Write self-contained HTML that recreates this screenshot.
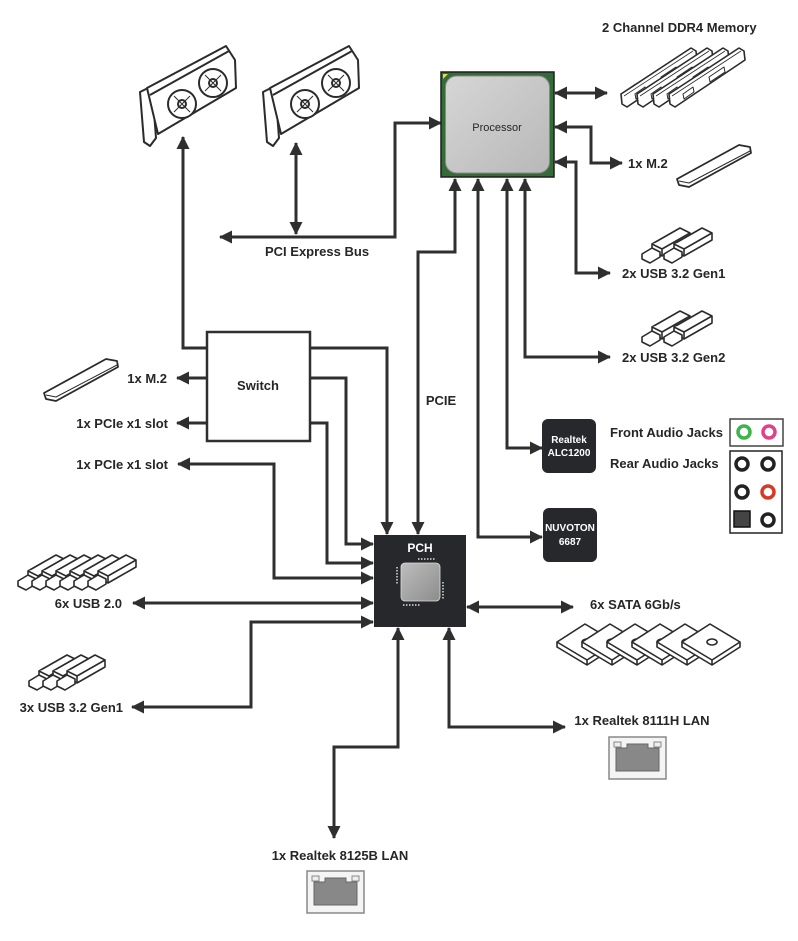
<!DOCTYPE html>
<html><head><meta charset="utf-8"><style>
html,body{margin:0;padding:0;background:#fff;}
svg{display:block;}
text{font-family:"Liberation Sans",Arial,sans-serif;font-weight:bold;fill:#262626;font-size:13px;}
</style></head><body>
<svg width="798" height="941" viewBox="0 0 798 941" xmlns="http://www.w3.org/2000/svg">
<defs>
<marker id="a" markerUnits="userSpaceOnUse" markerWidth="13" markerHeight="13" refX="12" refY="6.5" orient="auto-start-reverse"><path d="M0,0 L13,6.5 L0,13 z" fill="#2f2f2f"/></marker>
<linearGradient id="g" x1="0" y1="0" x2="1" y2="1"><stop offset="0" stop-color="#d6d6d6"/><stop offset="1" stop-color="#b8b8b8"/></linearGradient>
<linearGradient id="g2" x1="0" y1="0" x2="1" y2="1"><stop offset="0" stop-color="#bdbdbd"/><stop offset="0.5" stop-color="#a5a5a5"/><stop offset="1" stop-color="#8c8c8c"/></linearGradient>
<g id="gpu" fill="#fff" stroke="#2b2b2b" stroke-width="2" stroke-linejoin="round">
<path d="M140 92 L152 86 L156 138 L150 146 L144 142 Z"/>
<path d="M147 88 L226 46 L235 60 L236 88 L158 134 Z"/>
<path d="M150 95 L229 51" fill="none"/>
<circle cx="182" cy="104" r="14"/><circle cx="182" cy="104" r="4"/>
<circle cx="213" cy="83" r="14"/><circle cx="213" cy="83" r="4"/>
<path d="M174 96 L190 112 M190 96 L174 112 M205 75 L221 91 M221 75 L205 91" fill="none" stroke-width="1"/>
</g>
<g id="usb" fill="#fff" stroke="#2b2b2b" stroke-width="1.6" stroke-linejoin="round">
<path d="M12 18 L40 2 L50 7 L50 14 L22 30 L12 25 Z"/>
<path d="M12 18 L22 23 L50 7 M22 23 L22 30"/>
<path d="M2 28 L12 22 L20 26 L20 31 L10 37 L2 33 Z"/>
</g>
<g id="hdd" fill="#fff" stroke="#2b2b2b" stroke-width="1.6" stroke-linejoin="round">
<path d="M2 22 L30 4 L60 22 L60 27 L32 45 L2 27 Z"/>
<path d="M2 22 L32 40 L60 22 M32 40 L32 45"/>
<ellipse cx="32" cy="22" rx="5" ry="3"/>
</g>
<g id="ram" fill="#fff" stroke="#2b2b2b" stroke-width="1.6" stroke-linejoin="round">
<path d="M0 46 L70 0 L75 3 L76 12 L6 59 L1 56 Z"/>
<path d="M3 48 L72 3" fill="none" stroke-width="0.8"/>
<path d="M14 46 L24 39 L25 44 L15 51 Z M40 29 L55 19 L56 24 L41 34 Z" fill="#fff" stroke-width="1"/>
</g>
<g id="lan">
<rect x="0" y="0" width="57" height="42" fill="#f4f4f4" stroke="#888" stroke-width="1.5"/>
<path d="M7 11 H18 V7 H39 V11 H50 V34 H7 Z" fill="#888" stroke="#666"/>
<rect x="5" y="5" width="7" height="5" fill="#eee" stroke="#888"/><rect x="45" y="5" width="7" height="5" fill="#eee" stroke="#888"/>
</g>
<g id="m2" fill="#fff" stroke="#2b2b2b" stroke-width="1.8" stroke-linejoin="round">
<path d="M0 36 L62 2 L73 4 L74 10 L12 44 L2 42 Z"/>
<path d="M2 38 L12 40 L73 8" fill="none" stroke-width="1"/>
</g>
</defs>

<g fill="none" stroke="#2f2f2f" stroke-width="3">
<path d="M207 348 H183 V137" marker-end="url(#a)"/>
<path d="M296 143 V234" marker-start="url(#a)" marker-end="url(#a)"/>
<path d="M441 123 H395 V237 H220" marker-start="url(#a)" marker-end="url(#a)"/>
<path d="M310 348 H387 V534" marker-end="url(#a)"/>
<path d="M455 179 V252 H418 V534" marker-start="url(#a)" marker-end="url(#a)"/>
<path d="M478 179 V537 H542" marker-start="url(#a)" marker-end="url(#a)"/>
<path d="M507 179 V448 H542" marker-start="url(#a)" marker-end="url(#a)"/>
<path d="M525 179 V357 H610" marker-start="url(#a)" marker-end="url(#a)"/>
<path d="M555 93 H607" marker-start="url(#a)" marker-end="url(#a)"/>
<path d="M555 127 H591 V163 H622" marker-start="url(#a)" marker-end="url(#a)"/>
<path d="M555 162 H576 V273 H610" marker-start="url(#a)" marker-end="url(#a)"/>
<path d="M207 378 H177" marker-end="url(#a)"/>
<path d="M207 423 H177" marker-end="url(#a)"/>
<path d="M310 378 H346 V544 H373" marker-end="url(#a)"/>
<path d="M310 423 H327 V563 H373" marker-end="url(#a)"/>
<path d="M373 578 H274 V464 H178" marker-start="url(#a)" marker-end="url(#a)"/>
<path d="M373 603 H133" marker-start="url(#a)" marker-end="url(#a)"/>
<path d="M373 622 H251 V707 H132" marker-start="url(#a)" marker-end="url(#a)"/>
<path d="M398 628 V747 H334 V838" marker-start="url(#a)" marker-end="url(#a)"/>
<path d="M449 628 V727 H565" marker-start="url(#a)" marker-end="url(#a)"/>
<path d="M467 607 H573" marker-start="url(#a)" marker-end="url(#a)"/>
</g>

<rect x="441" y="72" width="113" height="105" fill="#356b38" stroke="#1e1e1e" stroke-width="1.5"/>
<rect x="445.5" y="76" width="104" height="97" rx="11" fill="url(#g)" stroke="#888" stroke-width="1"/>
<path d="M443 74 L448 74 L443 79 Z" fill="#e8d84a"/>
<text x="497" y="131" text-anchor="middle" style="font-weight:normal;font-size:11px">Processor</text>

<rect x="207" y="332" width="103" height="109" fill="#fff" stroke="#2f2f2f" stroke-width="2.5"/>
<text x="258" y="390" text-anchor="middle">Switch</text>

<rect x="374" y="535" width="92" height="92" fill="#26282c"/>
<text x="420" y="552" text-anchor="middle" style="fill:#fff;font-size:12px">PCH</text>
<rect x="401" y="563" width="39" height="38" rx="4" fill="url(#g2)" stroke="#ddd" stroke-width="0.8"/>
<g stroke="#ddd" stroke-width="1.5" stroke-dasharray="1.5 1.5">
<path d="M418 559 H436"/><path d="M403 605 H421"/><path d="M397 567 V584"/><path d="M443 582 V600"/>
</g>
<text x="441" y="405" text-anchor="middle" style="font-size:13px">PCIE</text>

<rect x="542" y="419" width="54" height="54" rx="6" fill="#26282c"/>
<text x="569" y="443" text-anchor="middle" style="fill:#fff;font-size:10px">Realtek</text>
<text x="569" y="456" text-anchor="middle" style="fill:#fff;font-size:10px">ALC1200</text>
<rect x="543" y="508" width="54" height="54" rx="6" fill="#26282c"/>
<text x="570" y="531" text-anchor="middle" style="fill:#fff;font-size:10px">NUVOTON</text>
<text x="570" y="545" text-anchor="middle" style="fill:#fff;font-size:10px">6687</text>

<text x="610" y="437">Front Audio Jacks</text>
<text x="610" y="468">Rear Audio Jacks</text>
<rect x="730" y="419" width="53" height="27" fill="#fff" stroke="#444" stroke-width="1.5"/>
<circle cx="744" cy="432" r="6" fill="none" stroke="#3cb54a" stroke-width="3.5"/>
<circle cx="769" cy="432" r="6" fill="none" stroke="#e0408a" stroke-width="3.5"/>
<rect x="730" y="451" width="52" height="82" fill="#fff" stroke="#222" stroke-width="1.5"/>
<g fill="none" stroke="#222" stroke-width="3.5">
<circle cx="742" cy="464" r="6"/><circle cx="768" cy="464" r="6"/>
<circle cx="742" cy="492" r="6"/><circle cx="768" cy="492" r="6" stroke="#d63a22"/>
<circle cx="768" cy="520" r="6"/>
</g>
<rect x="734" y="511" width="16" height="16" fill="#444" stroke="#111" stroke-width="1.5"/>

<text x="602" y="32">2 Channel DDR4 Memory</text>
<text x="628" y="168">1x M.2</text>
<text x="622" y="278">2x USB 3.2 Gen1</text>
<text x="622" y="362">2x USB 3.2 Gen2</text>
<text x="265" y="256">PCI Express Bus</text>
<text x="167" y="383" text-anchor="end">1x M.2</text>
<text x="168" y="428" text-anchor="end">1x PCIe x1 slot</text>
<text x="168" y="469" text-anchor="end">1x PCIe x1 slot</text>
<text x="122" y="608" text-anchor="end">6x USB 2.0</text>
<text x="123" y="712" text-anchor="end">3x USB 3.2 Gen1</text>
<text x="590" y="609">6x SATA 6Gb/s</text>
<text x="642" y="725" text-anchor="middle">1x Realtek 8111H LAN</text>
<text x="340" y="860" text-anchor="middle">1x Realtek 8125B LAN</text>

<use href="#gpu"/>
<use href="#gpu" transform="translate(123 0)"/>
<use href="#ram" transform="translate(621 48)"/>
<use href="#ram" transform="translate(637 48)"/>
<use href="#ram" transform="translate(653 48)"/>
<use href="#ram" transform="translate(669 48)"/>
<use href="#m2" transform="translate(677 143)"/>
<use href="#m2" transform="translate(44 357)"/>
<use href="#usb" transform="translate(640 226)"/><use href="#usb" transform="translate(662 226)"/>
<use href="#usb" transform="translate(640 309)"/><use href="#usb" transform="translate(662 309)"/>
<use href="#usb" transform="translate(16 553)"/><use href="#usb" transform="translate(30 553)"/><use href="#usb" transform="translate(44 553)"/><use href="#usb" transform="translate(58 553)"/><use href="#usb" transform="translate(72 553)"/><use href="#usb" transform="translate(86 553)"/>
<use href="#usb" transform="translate(27 653)"/><use href="#usb" transform="translate(41 653)"/><use href="#usb" transform="translate(55 653)"/>
<use href="#hdd" transform="translate(555 620)"/><use href="#hdd" transform="translate(580 620)"/><use href="#hdd" transform="translate(605 620)"/><use href="#hdd" transform="translate(630 620)"/><use href="#hdd" transform="translate(655 620)"/><use href="#hdd" transform="translate(680 620)"/>
<use href="#lan" transform="translate(609 737)"/>
<use href="#lan" transform="translate(307 871)"/>
</svg>
</body></html>
